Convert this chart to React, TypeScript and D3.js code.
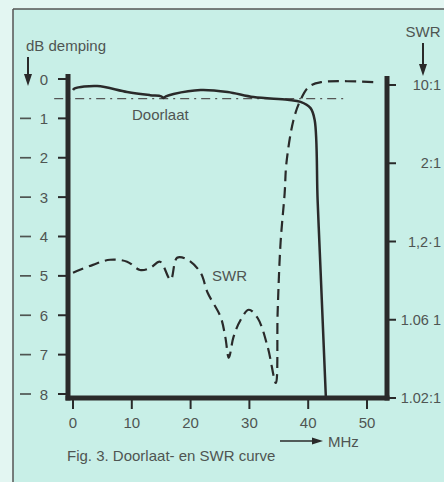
import React from "react";
import * as d3 from "d3";

// Left axis: attenuation (dB demping)
const dbTicks = [0, -1, -2, -3, -4, -5, -6, -7, -8];
// Bottom axis: frequency (MHz)
const mhzTicks = [0, 10, 20, 30, 40, 50];
// Right axis: SWR labels
const swrLabels = ["10:1", "2:1", "1,2·1", "1.06 1", "1.02:1"];

// Doorlaat (pass-band) curve, MHz vs dB
const doorFreq = [0, 0.3, 4.1, 9.2, 13.1, 15.0, 15.4, 15.8, 17.1, 21.7, 26.3, 30.7, 36.5, 38.7, 40.4, 41.1, 41.6, 42.1, 43.0];
const doorDb = [-0.28, -0.24, -0.18, -0.33, -0.41, -0.44, -0.48, -0.44, -0.38, -0.28, -0.33, -0.46, -0.53, -0.58, -0.74, -1.04, -3.07, -4.85, -8.07];

// -0.5 dB reference line (MHz range)
const refDb = -0.5;
const refFreq = [-3.2, 46];

// SWR curve (read against the left-hand scale)
const swrFreq = [0, 3.4, 6.3, 9.2, 11.4, 13.1, 14.8, 16.6, 17.7, 19.5, 21.7, 22.9, 25.1, 25.9, 26.5, 27.3, 28.5, 29.9, 31.4, 33.1, 34.5, 34.8, 35.3, 36.0, 36.3, 37.5, 38.7, 40.1, 42.2, 51.5];
const swrDb = [-4.92, -4.72, -4.59, -4.64, -4.85, -4.8, -4.64, -5.1, -4.54, -4.59, -4.92, -5.43, -6.04, -6.55, -7.08, -6.55, -6.12, -5.86, -6.07, -6.8, -7.72, -5.94, -4.16, -2.89, -2.13, -1.04, -0.53, -0.2, -0.08, -0.08];

const FONT = "'Liberation Sans', Arial, Helvetica, sans-serif";
const INK = "#2a2a2a";
const TXT = "#4f5552";

export default function App() {
  const x = d3.scaleLinear().domain([0, 50]).range([73, 367]);
  const y = d3.scaleLinear().domain([0, -8]).range([79, 394]);
  const yr = d3.scalePoint<string>().domain(swrLabels).range([85, 398]);

  const axisLeftX = 68;
  const axisRightX = 387;
  const axisBottomY = 398;

  const line = d3
    .line<[number, number]>()
    .x((d) => x(d[0]))
    .y((d) => y(d[1]))
    .curve(d3.curveCatmullRom.alpha(0.5));

  const doorPath = line(doorFreq.map((f, i) => [f, doorDb[i]] as [number, number])) || "";
  const swrPath = line(swrFreq.map((f, i) => [f, swrDb[i]] as [number, number])) || "";

  return (
    <svg
      width={444}
      height={482}
      style={{ position: "absolute", left: 0, top: 0, display: "block" }}
      fontFamily={FONT}
    >
      <rect x={0} y={0} width={444} height={482} fill="#e3f6f2" />
      <rect x={13} y={9} width={431} height={473} fill="#c8efe7" />
      <line x1={13} y1={9} x2={444} y2={9} stroke="#555" strokeWidth={1.5} />
      <line x1={13} y1={9} x2={13} y2={482} stroke="#555" strokeWidth={1.5} />

      {/* left axis title and arrow */}
      <text x={26} y={51} fontSize={15} fill={TXT}>dB demping</text>
      <line x1={28} y1={57} x2={28} y2={76} stroke={INK} strokeWidth={2} />
      <path d="M24,74 L32,74 L28,86 Z" fill={INK} />

      {/* right axis title and arrow */}
      <text x={423} y={37} fontSize={15} fill={TXT} textAnchor="middle">SWR</text>
      <line x1={423} y1={43} x2={423} y2={66} stroke={INK} strokeWidth={2} />
      <path d="M419,64 L427,64 L423,76 Z" fill={INK} />

      {/* left ticks */}
      {dbTicks.map((t) => (
        <g key={"l" + t}>
          <line x1={58} x2={axisLeftX} y1={y(t)} y2={y(t)} stroke={INK} strokeWidth={2} />
          {t !== 0 && <line x1={20} x2={31} y1={y(t)} y2={y(t)} stroke={TXT} strokeWidth={1.7} />}
          <text x={44} y={y(t) + 5.5} fontSize={15} fill={TXT} textAnchor="middle">
            {Math.abs(t)}
          </text>
        </g>
      ))}

      {/* right ticks */}
      {swrLabels.map((s) => (
        <g key={"r" + s}>
          <line x1={axisRightX} x2={396} y1={yr(s)} y2={yr(s)} stroke={INK} strokeWidth={2} />
          <text x={441} y={(yr(s) as number) + 5} fontSize={14.5} fill={TXT} textAnchor="end">
            {s}
          </text>
        </g>
      ))}

      {/* bottom ticks */}
      {mhzTicks.map((t) => (
        <g key={"b" + t}>
          <line x1={x(t)} x2={x(t)} y1={axisBottomY} y2={409} stroke={INK} strokeWidth={2} />
          <text x={x(t)} y={428} fontSize={15} fill={TXT} textAnchor="middle">
            {t}
          </text>
        </g>
      ))}

      {/* reference dash-dot line */}
      <line
        x1={x(refFreq[0])}
        x2={x(refFreq[1])}
        y1={y(refDb)}
        y2={y(refDb)}
        stroke="#555"
        strokeWidth={1.3}
        strokeDasharray="9,5,2,5"
      />

      {/* curves */}
      <path d={swrPath} fill="none" stroke={INK} strokeWidth={2.2} strokeDasharray="11,6" />
      <path d={doorPath} fill="none" stroke={INK} strokeWidth={2.5} strokeLinejoin="round" />

      {/* axes */}
      <line x1={axisLeftX} x2={axisLeftX} y1={74} y2={axisBottomY + 2.5} stroke={INK} strokeWidth={5} />
      <line x1={axisRightX} x2={axisRightX} y1={76} y2={axisBottomY + 2.5} stroke={INK} strokeWidth={5} />
      <line x1={axisLeftX - 2.5} x2={axisRightX + 2.5} y1={axisBottomY} y2={axisBottomY} stroke={INK} strokeWidth={5} />

      {/* curve labels */}
      <text x={132} y={120} fontSize={15} fill={TXT}>Doorlaat</text>
      <text x={212} y={281} fontSize={15} fill={TXT}>SWR</text>

      {/* MHz arrow */}
      <line x1={280} x2={314} y1={441} y2={441} stroke={INK} strokeWidth={1.6} />
      <path d="M312,437.5 L323,441 L312,444.5 Z" fill={INK} />
      <text x={328} y={447} fontSize={15} fill={TXT}>MHz</text>

      {/* caption */}
      <text x={67} y={461} fontSize={15} fill={TXT}>Fig. 3. Doorlaat- en SWR curve</text>
    </svg>
  );
}
